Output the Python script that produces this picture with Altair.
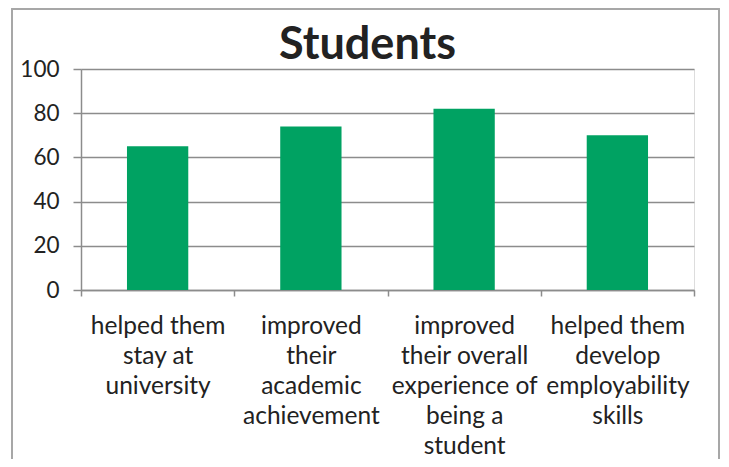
import altair as alt
import pandas as pd

categories = [
    "helped them|stay at|university",
    "improved|their|academic|achievement",
    "improved|their overall|experience of|being a|student",
    "helped them|develop|employability|skills",
]
values = [65, 74, 82, 70]
title_text = "Students"

df = pd.DataFrame({"category": categories, "value": values})

FONT = "Lato"
W, H = 613, 221

bars = alt.Chart(df).mark_bar(color="#00A262", width=alt.RelativeBandSize(0.4)).encode(
    x=alt.X(
        "category:N",
        sort=categories,
        scale=alt.Scale(paddingInner=0, paddingOuter=0),
        axis=alt.Axis(
            title=None,
            labelAngle=0,
            labelExpr="split(datum.label, '|')",
            labelFont=FONT,
            labelFontSize=24.5,
            labelColor="#222222",
            labelLineHeight=30,
            labelPadding=18,
            labelLimit=300,
            tickBand="extent",
            tickSize=6,
            tickColor="#8c8c8c",
            domainColor="#8c8c8c",
            domainWidth=1.5,
            tickWidth=1.5,
            grid=False,
        ),
    ),
    y=alt.Y(
        "value:Q",
        scale=alt.Scale(domain=[0, 100]),
        axis=alt.Axis(
            title=None,
            values=[0, 20, 40, 60, 80, 100],
            labelFont=FONT,
            labelFontSize=22.5,
            labelColor="#222222",
            labelPadding=14,
            tickSize=8,
            tickColor="#8c8c8c",
            tickWidth=1.5,
            gridColor="#8c8c8c",
            gridWidth=1.5,
            domainColor="#8c8c8c",
            domainWidth=1.5,
        ),
    ),
)

border = alt.Chart(df).mark_rect(fill=None, stroke="#a6a6a6", strokeWidth=1.5, clip=False).encode(
    x=alt.value(-69), x2=alt.value(638), y=alt.value(-60), y2=alt.value(430)
)

title = alt.Chart(pd.DataFrame({"t": [title_text]})).mark_text(
    font=FONT, fontSize=45, fontWeight="bold", color="#222222",
    align="center", baseline="middle", clip=False,
).encode(text="t:N", x=alt.value(W / 2 - 20), y=alt.value(-24))

chart = alt.layer(border, bars, title).properties(
    width=W,
    height=H,
    padding={"left": 73, "top": 61, "right": 27, "bottom": 169},
    autosize=alt.AutoSizeParams(type="none"),
).configure_view(stroke=None).configure(background="white")

chart.save("out.html", embed_options={"renderer": "svg", "actions": False})
